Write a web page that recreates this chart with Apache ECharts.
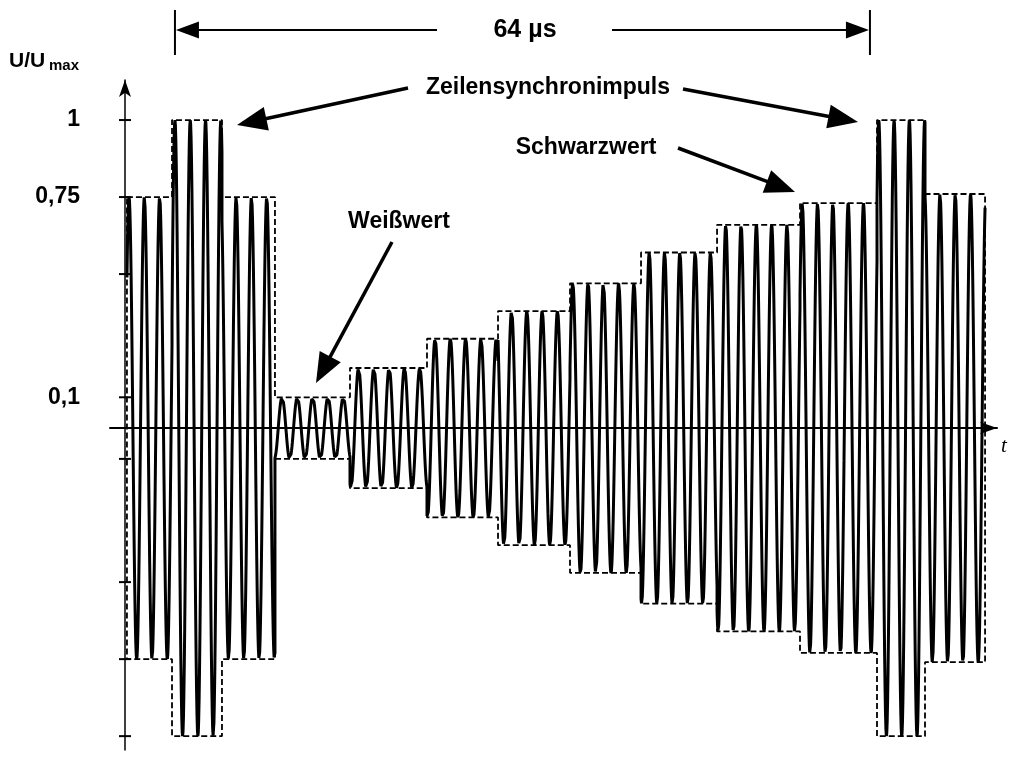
<!DOCTYPE html>
<html><head><meta charset="utf-8">
<script src="https://cdn.jsdelivr.net/npm/echarts@6/dist/echarts.min.js"></script>
<style>html,body{margin:0;padding:0;background:#fff}#c{width:1014px;height:762px}</style>
</head><body><div id="c"></div>
<script>
// Envelope segment boundaries (time in µs, origin at the U axis)
const envBounds = [0.18, 4.33, 8.93, 13.81, 20.72, 27.81, 34.35, 40.98, 47.52, 54.52, 62.16, 69.25, 73.67, 79.20];
// Envelope level (U/Umax) of each segment
const envLevels = [0.75, 1.0, 0.75, 0.10, 0.195, 0.29, 0.38, 0.47, 0.57, 0.66, 0.73, 1.0, 0.76];
// Carrier
const carrierPeriod = 1.409;     // µs per cycle
const carrierPeakTime = 4.60;    // time of one crest
// Axis ticks and labels
const yTickValues = [-1, -0.75, -0.5, -0.1, 0.1, 0.5, 0.75, 1];
const yLabelValues = [0.1, 0.75, 1];
const yLabelTexts = ['0,1', '0,75', '1'];
// 64 µs line period marker (start, end)
const periodMarker = [4.60, 68.60];
const periodText = '64 µs';

const FONT = '"Liberation Sans", Arial, sans-serif';

// carrier modulated by the envelope
const carrier = [];
for (let i = 0; i < envLevels.length; i++) {
  const a = envBounds[i], b = envBounds[i + 1], L = envLevels[i];
  const n = Math.ceil((b - a) / (carrierPeriod / 36));
  for (let k = 0; k <= n; k++) {
    const t = a + (b - a) * k / n;
    carrier.push([t, L * Math.cos(2 * Math.PI * (t - carrierPeakTime) / carrierPeriod)]);
  }
}
// dashed envelope outline (upper forward, lower backward)
const envelope = [];
for (let i = 0; i < envLevels.length; i++) {
  envelope.push([envBounds[i], envLevels[i]], [envBounds[i + 1], envLevels[i]]);
}
for (let i = envLevels.length - 1; i >= 0; i--) {
  envelope.push([envBounds[i + 1], -envLevels[i]], [envBounds[i], -envLevels[i]]);
}
envelope.push(envelope[0]);

const chart = echarts.init(document.getElementById('c'), null, {renderer: 'canvas'});

const option = {
  animation: false,
  backgroundColor: '#fff',
  grid: {left: 110, right: 17, top: 80, bottom: 12},
  xAxis: {
    type: 'value', min: -1.381, max: 80.30,
    axisLine: {onZero: true, symbol: ['none', 'arrow'], symbolSize: [9, 17], lineStyle: {color: '#000', width: 2}},
    axisTick: {show: false}, axisLabel: {show: false}, splitLine: {show: false}
  },
  yAxis: {
    type: 'value', min: -1.045, max: 1.13,
    axisLine: {onZero: true, symbol: ['none', 'arrow'], symbolSize: [9, 17], lineStyle: {color: '#000', width: 1.5}},
    axisTick: {show: false},
    axisLabel: {
      show: true, customValues: yLabelValues,
      formatter: v => yLabelTexts[yLabelValues.indexOf(v)],
      margin: 30, align: 'right', color: '#000',
      fontFamily: FONT, fontWeight: 'bold', fontSize: 23
    },
    splitLine: {show: false}
  },
  series: [
    {
      type: 'line', data: envelope, showSymbol: false, silent: true, z: 2,
      lineStyle: {color: '#000', width: 1.8, type: [6, 3]}
    },
    {
      type: 'line', data: carrier, showSymbol: false, silent: true, z: 3, sampling: null,
      lineStyle: {color: '#000', width: 3}
    },
    {
      type: 'custom', z: 4, silent: true,
      data: yTickValues.map(v => [0, v]),
      encode: {x: 0, y: 1},
      renderItem: (params, api) => {
        const p = api.coord([0, api.value(1)]);
        return {type: 'line', shape: {x1: p[0] - 6, y1: p[1], x2: p[0] + 6, y2: p[1]},
                style: {stroke: '#000', lineWidth: 2}};
      }
    }
  ]
};
chart.setOption(option);

function arrow(x1, y1, x2, y2, hl, hw, lw) {
  const dx = x2 - x1, dy = y2 - y1, len = Math.hypot(dx, dy);
  const ux = dx / len, uy = dy / len, px = -uy, py = ux;
  const bx = x2 - ux * hl, by = y2 - uy * hl;
  return [
    {type: 'line', shape: {x1, y1, x2: bx + ux * 2, y2: by + uy * 2}, style: {stroke: '#000', lineWidth: lw}},
    {type: 'polygon', shape: {points: [[x2, y2], [bx + px * hw / 2, by + py * hw / 2], [bx - px * hw / 2, by - py * hw / 2]]},
     style: {fill: '#000'}}
  ];
}
function txt(x, y, text, size, extra) {
  return Object.assign({type: 'text', x, y, style: Object.assign({
    text, fill: '#000', fontFamily: FONT, fontWeight: 'bold', fontSize: size,
    align: 'center', verticalAlign: 'middle'}, extra || {})});
}

const pA = chart.convertToPixel({gridIndex: 0}, [periodMarker[0], 0])[0];
const pB = chart.convertToPixel({gridIndex: 0}, [periodMarker[1], 0])[0];
const yM = 30;
const g = [];
g.push({type: 'line', shape: {x1: pA, y1: 10, x2: pA, y2: 55}, style: {stroke: '#000', lineWidth: 2}});
g.push({type: 'line', shape: {x1: pB, y1: 10, x2: pB, y2: 55}, style: {stroke: '#000', lineWidth: 2}});
g.push(...arrow(437, yM, pA + 1, yM, 23, 17, 2));
g.push(...arrow(612, yM, pB - 1, yM, 23, 17, 2));
g.push(txt(525, yM, periodText, 25));
g.push(txt(548, 88, 'Zeilensynchronimpuls', 23));
g.push(...arrow(408, 88, 237, 125, 30, 24, 3.5));
g.push(...arrow(683, 89, 858, 122, 30, 24, 3.5));
g.push(txt(586, 148, 'Schwarzwert', 23));
g.push(...arrow(678, 148, 795, 192, 30, 24, 3.5));
g.push(txt(399, 222, 'Weißwert', 23));
g.push(...arrow(392, 242, 316, 383, 30, 24, 3.5));
g.push(txt(9, 61.5, 'U/U', 21, {align: 'left'}));
g.push(txt(49, 66, 'max', 15, {align: 'left'}));
g.push(txt(1004, 446, 't', 21, {fontFamily: '"Liberation Serif", serif', fontStyle: 'italic', fontWeight: 'normal'}));
chart.setOption({graphic: g});
</script>
</body></html>
